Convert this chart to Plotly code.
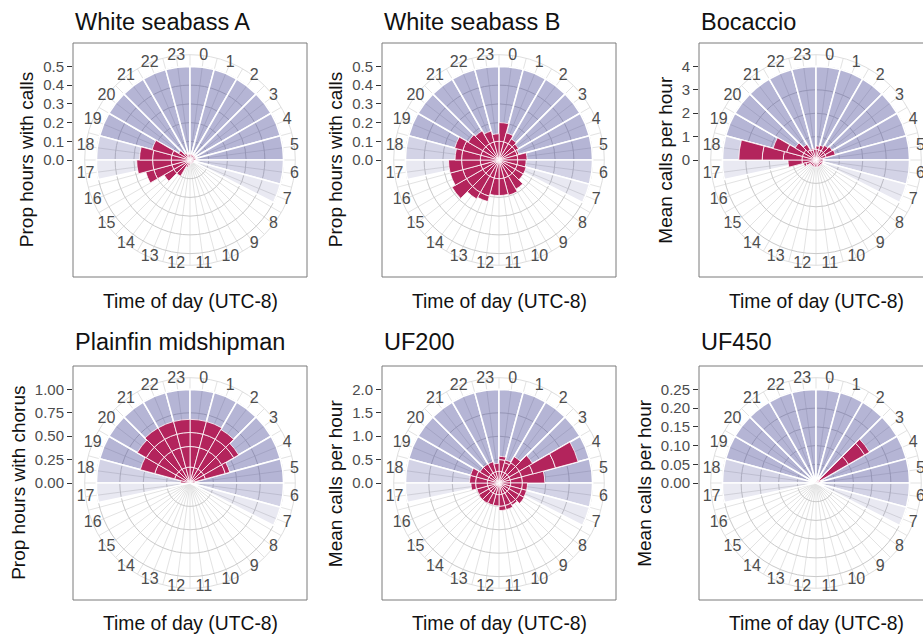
import numpy as np
import plotly.graph_objects as go

W, H = 923, 634
FONT = "Liberation Sans, Arial, sans-serif"

hours = list(range(24))
hour_labels = [str(h) for h in hours]

titles = ["White seabass A", "White seabass B", "Bocaccio",
          "Plainfin midshipman", "UF200", "UF450"]
y_titles = ["Prop hours with calls", "Prop hours with calls", "Mean calls per hour",
            "Prop hours with chorus", "Mean calls per hour", "Mean calls per hour"]
x_title = "Time of day (UTC-8)"
y_max = [0.5, 0.5, 4, 1.0, 2.0, 0.25]
y_ticks = [[0, 0.1, 0.2, 0.3, 0.4, 0.5],
           [0, 0.1, 0.2, 0.3, 0.4, 0.5],
           [0, 1, 2, 3, 4],
           [0, 0.25, 0.5, 0.75, 1.0],
           [0, 0.5, 1.0, 1.5, 2.0],
           [0, 0.05, 0.10, 0.15, 0.20, 0.25]]
y_ticktext = [["0.0", "0.1", "0.2", "0.3", "0.4", "0.5"],
              ["0.0", "0.1", "0.2", "0.3", "0.4", "0.5"],
              ["0", "1", "2", "3", "4"],
              ["0.00", "0.25", "0.50", "0.75", "1.00"],
              ["0.0", "0.5", "1.0", "1.5", "2.0"],
              ["0.00", "0.05", "0.10", "0.15", "0.20", "0.25"]]

# Night shading bands (start hour, end hour, level: 3 dark, 2 medium, 1 light)
shade_start = [19, 18, 6, 17.2, 7.0]
shade_end = [30, 19, 7, 18.0, 7.8]
shade_level = [3, 2, 2, 1, 1]

# Stacked components of hourly values (hour 0..23)
seabassA = [
    [0.03, 0.03, 0.03, 0.03, 0.03, 0.03, 0.02, 0.02, 0.02, 0.02, 0.02, 0.02,
     0.03, 0.04, 0.10, 0.10, 0.10, 0.10, 0.10, 0.10, 0.07, 0.04, 0.03, 0.03],
    [0, 0, 0, 0, 0, 0, 0, 0, 0, 0, 0, 0,
     0, 0, 0, 0.06, 0.10, 0.10, 0.10, 0.11, 0, 0, 0, 0],
    [0, 0, 0, 0, 0, 0, 0, 0, 0, 0, 0, 0,
     0, 0, 0, 0, 0.045, 0.085, 0.07, 0, 0, 0, 0, 0],
]
seabassB = [
    [0.10] * 24,
    [0.10, 0.05, 0.03, 0.02, 0.01, 0.05, 0.045, 0.05, 0.05, 0.08, 0.095, 0.09,
     0.09, 0.10, 0.10, 0.10, 0.10, 0.10, 0.10, 0.10, 0.09, 0.08, 0.06, 0.04],
    [0, 0, 0, 0, 0, 0, 0, 0, 0, 0, 0, 0,
     0, 0.03, 0.04, 0.09, 0.07, 0.07, 0.035, 0.045, 0, 0, 0, 0],
]
bocaccio = [
    [0.45, 0.45, 0.45, 0.45, 0.45, 0.3, 0.3, 0.3, 0.3, 0.3, 0.3, 0.3,
     0.3, 0.3, 0.3, 0.3, 0.45, 0.6, 0.6, 0.6, 0.6, 0.5, 0.45, 0.45],
    [0.15, 0.2, 0.27, 0.35, 0.4, 0, 0, 0, 0, 0, 0, 0,
     0, 0, 0, 0, 0.1, 0.6, 0.8, 0.7, 0.43, 0.27, 0.05, 0.05],
    [0, 0, 0, 0, 0, 0, 0, 0, 0, 0, 0, 0,
     0, 0, 0, 0, 0, 0, 0.9, 0.6, 0, 0, 0, 0],
    [0, 0, 0, 0, 0, 0, 0, 0, 0, 0, 0, 0,
     0, 0, 0, 0, 0, 0, 1.0, 0, 0, 0, 0, 0],
]
plainfin = [
    [0.17, 0.17, 0.17, 0.17, 0.17, 0.05, 0.01, 0.01, 0.01, 0.01, 0.01, 0.01,
     0.01, 0.01, 0.01, 0.01, 0.01, 0.01, 0.10, 0.17, 0.17, 0.17, 0.17, 0.17],
    [0.22, 0.22, 0.22, 0.22, 0.22, 0, 0, 0, 0, 0, 0, 0,
     0, 0, 0, 0, 0, 0, 0, 0.22, 0.22, 0.22, 0.22, 0.22],
    [0.15, 0.15, 0.15, 0.15, 0.05, 0, 0, 0, 0, 0, 0, 0,
     0, 0, 0, 0, 0, 0, 0, 0.16, 0.15, 0.15, 0.15, 0.15],
    [0.14, 0.14, 0.12, 0.06, 0, 0, 0, 0, 0, 0, 0, 0,
     0, 0, 0, 0, 0, 0, 0, 0, 0.11, 0.14, 0.14, 0.14],
]
uf200 = [
    [0.25] * 24,
    [0.25, 0.20, 0.25, 0.25, 0.25, 0.25, 0.25, 0.25, 0.25, 0.25, 0.25, 0.25,
     0.24, 0.24, 0.25, 0.25, 0.24, 0.25, 0.25, 0.25, 0.22, 0.22, 0.22, 0.17],
    [0.07, 0.06, 0.15, 0.33, 0.25, 0.48, 0.11, 0.11, 0.12, 0.05, 0.09, 0.09,
     0, 0, 0, 0, 0, 0.10, 0.13, 0.13, 0, 0, 0, 0],
    [0, 0, 0, 0, 0.5, 0, 0, 0, 0, 0, 0, 0,
     0, 0, 0, 0, 0, 0, 0, 0, 0, 0, 0, 0],
    [0, 0, 0, 0, 0.5, 0, 0, 0, 0, 0, 0, 0,
     0, 0, 0, 0, 0, 0, 0, 0, 0, 0, 0, 0],
]
uf450 = [
    [0, 0, 0.01, 0.10, 0.012, 0, 0, 0, 0, 0, 0, 0,
     0, 0, 0, 0, 0, 0.003, 0.003, 0, 0, 0, 0, 0],
    [0, 0, 0, 0.05, 0, 0, 0, 0, 0, 0, 0, 0,
     0, 0, 0, 0, 0, 0, 0, 0, 0, 0, 0, 0],
    [0, 0, 0, 0.015, 0, 0, 0, 0, 0, 0, 0, 0,
     0, 0, 0, 0, 0, 0, 0, 0, 0, 0, 0, 0],
]
panel_data = [seabassA, seabassB, bocaccio, plainfin, uf200, uf450]

RED = "#B3245C"
SHADE_COLORS = {3: "rgba(70,70,150,0.40)", 2: "rgba(70,70,150,0.24)", 1: "rgba(70,70,150,0.12)"}

# layout geometry (pixels)
S = 234
col_x0 = [73, 382, 699]
row_y0 = [43, 366]
title_y = [22, 342]
xlab_y = [302, 623]
TICK_FS = 15
HOUR_FS = 16


def label_width(txt):
    # approx. width in px of a tick label (Arial/Liberation metrics)
    return sum(0.278 if ch == "." else 0.556 for ch in txt) * TICK_FS


fig = go.Figure()
layout = dict(width=W, height=H, margin=dict(l=0, r=0, t=0, b=0, autoexpand=False),
              paper_bgcolor="white", plot_bgcolor="white",
              showlegend=False, font=dict(family=FONT), shapes=[], annotations=[])

theta_all = [h * 15 + 7.5 for h in hours]
grid_vals = []
for h in hours:
    grid_vals += [h * 15.0, h * 15 + 7.5]

for i in range(6):
    r_i, c_i = divmod(i, 3)
    x0 = col_x0[c_i]
    y0 = row_y0[r_i]
    cx = x0 + S / 2
    cy = y0 + S / 2
    R_out = 0.45 * S
    R_dat = 0.40 * S
    pname = "polar" if i == 0 else f"polar{i+1}"
    sub = pname
    ymax = y_max[i]
    r_outer = ymax * 0.45 / 0.40

    th, wd, col = [], [], []
    for a, b, lv in zip(shade_start, shade_end, shade_level):
        if b - a > 1:
            for k in range(int(a), int(b)):
                th.append((k % 24) * 15 + 7.5)
                wd.append(15)
                col.append(SHADE_COLORS[lv])
        else:
            th.append(((a + b) / 2 % 24) * 15)
            wd.append((b - a) * 15)
            col.append(SHADE_COLORS[lv])
    fig.add_trace(go.Barpolar(r=[ymax] * len(th), theta=th, width=wd,
                              marker=dict(color=col, line=dict(color="white", width=1.6)),
                              subplot=sub, hoverinfo="skip"))
    segs = panel_data[i]
    base = np.zeros(24)
    for seg in segs:
        seg = np.array(seg, dtype=float)
        fig.add_trace(go.Barpolar(r=seg, base=base.copy(), theta=theta_all, width=[15] * 24,
                                  marker=dict(color=RED, line=dict(color="white", width=0.8)),
                                  subplot=sub, hoverinfo="skip"))
        base = base + seg

    # hour labels centred on the outer circle (as in ggplot coord_polar)
    fig.add_trace(go.Scatterpolar(r=[r_outer] * 24, theta=theta_all, mode="text",
                                  text=hour_labels, textposition="middle center",
                                  textfont=dict(size=HOUR_FS, color="#4d4d4d", family=FONT),
                                  cliponaxis=False, subplot=sub, hoverinfo="skip"))

    layout[pname] = dict(
        domain=dict(x=[(cx - R_out) / W, (cx + R_out) / W],
                    y=[1 - (cy + R_out) / H, 1 - (cy - R_out) / H]),
        bgcolor="white",
        barmode="overlay",
        radialaxis=dict(range=[0, r_outer], tickmode="array", tickvals=y_ticks[i],
                        showticklabels=False, ticks="", showline=False,
                        gridcolor="#cacaca", gridwidth=1, layer="below traces"),
        angularaxis=dict(direction="clockwise", rotation=90, tickmode="array",
                         tickvals=grid_vals, showticklabels=False, ticks="",
                         showline=True, linecolor="#dedede", linewidth=1,
                         gridcolor="#e3e3e3", gridwidth=1,
                         layer="below traces"),
    )

    xa = "xaxis" if i == 0 else f"xaxis{i+1}"
    ya = "yaxis" if i == 0 else f"yaxis{i+1}"
    xr = "x" if i == 0 else f"x{i+1}"
    yr = "y" if i == 0 else f"y{i+1}"
    layout[xa] = dict(domain=[x0 / W, min(1.0, (x0 + S) / W)], range=[0, 1], visible=False,
                      anchor=yr, automargin=False)
    layout[ya] = dict(domain=[1 - cy / H, 1 - (cy - R_dat) / H], range=[0, ymax],
                      anchor=xr, tickmode="array", tickvals=y_ticks[i], ticktext=y_ticktext[i],
                      ticks="outside", ticklen=5, tickwidth=1, tickcolor="#333333",
                      showgrid=False, zeroline=False, showline=False, automargin=False,
                      tickfont=dict(size=TICK_FS, color="#4d4d4d", family=FONT))
    fig.add_trace(go.Scatter(x=[None], y=[None], xaxis=xr, yaxis=yr, hoverinfo="skip",
                             showlegend=False))

    # y-axis title centred on the panel
    lw = max(label_width(t) for t in y_ticktext[i])
    layout["annotations"].append(dict(text=y_titles[i], xref="paper", yref="paper",
                                      x=(x0 - 26 - lw) / W, y=1 - cy / H, textangle=-90,
                                      xanchor="center", yanchor="middle", showarrow=False,
                                      font=dict(size=19, color="#111111", family=FONT)))

    layout["shapes"].append(dict(type="rect", xref="paper", yref="paper",
                                 x0=x0 / W, x1=(x0 + S) / W,
                                 y0=1 - (y0 + S) / H, y1=1 - y0 / H,
                                 line=dict(color="#7a7a7a", width=1), layer="above"))
    layout["annotations"].append(dict(text=titles[i], xref="paper", yref="paper",
                                      x=x0 / W, y=1 - title_y[r_i] / H, xanchor="left",
                                      yanchor="middle", showarrow=False,
                                      font=dict(size=23.5, color="#111111", family=FONT)))
    layout["annotations"].append(dict(text=x_title, xref="paper", yref="paper",
                                      x=cx / W, y=1 - xlab_y[r_i] / H, xanchor="center",
                                      yanchor="middle", showarrow=False,
                                      font=dict(size=19.3, color="#111111", family=FONT)))

fig.update_layout(**layout)
fig.write_html("out.html", config={"displayModeBar": False},
               post_script="document.body.style.margin='0';document.body.style.overflow='hidden';")
